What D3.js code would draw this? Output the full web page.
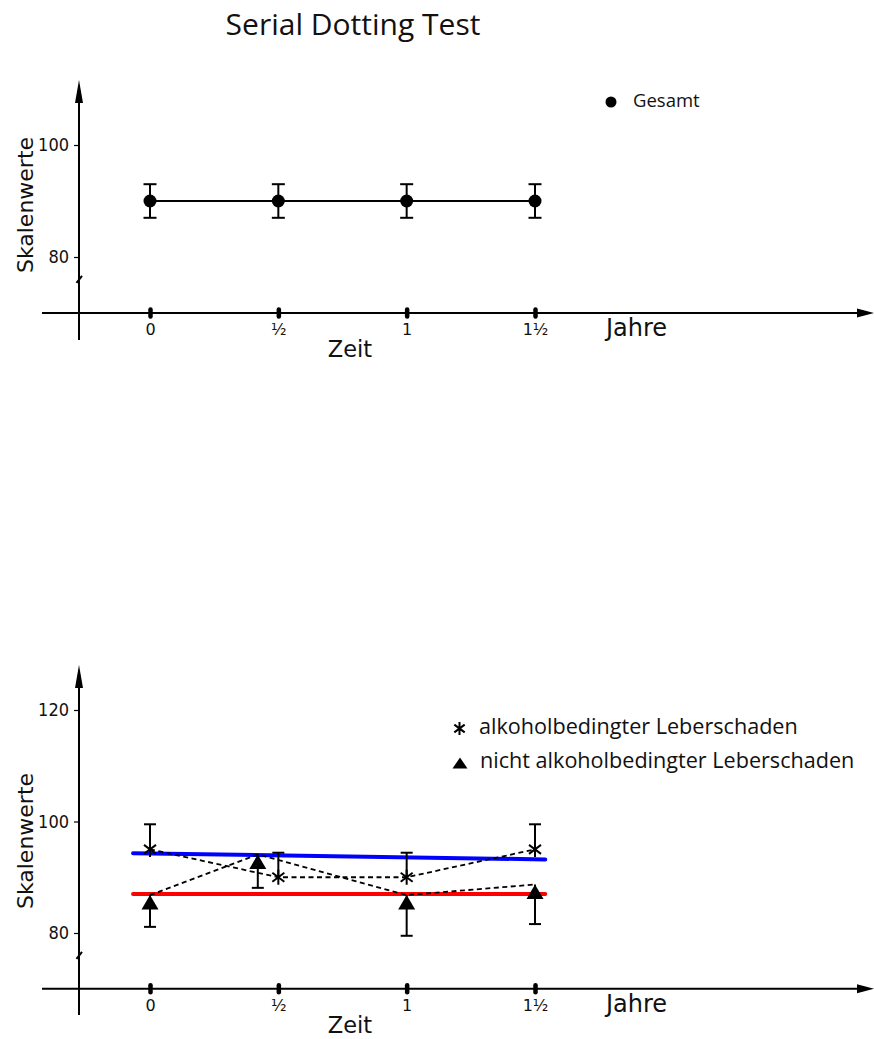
<!DOCTYPE html>
<html>
<head>
<meta charset="utf-8">
<script src="https://cdn.jsdelivr.net/npm/d3@7"></script>
<style>
  html, body { margin: 0; padding: 0; background: #fff; }
  svg { display: block; }
</style>
</head>
<body>
<script>
// ---------------- data ----------------
const chartTitle = "Serial Dotting Test";
const xTickValues = [0, 0.5, 1, 1.5];
const xTickLabels = ["0", "½", "1", "1½"];
const xAxisTitle = "Zeit";
const xUnitLabel = "Jahre";
const yAxisTitle = "Skalenwerte";

const topYTicks = [80, 100];
const bottomYTicks = [80, 100, 120];

// Panel 1: Gesamt
const gesamtLabel = "Gesamt";
const gesamtTime = [0, 0.5, 1, 1.5];
const gesamtMean = [90, 90, 90, 90];
const gesamtErr = [3, 3, 3, 3];

// Panel 2: alkoholbedingter Leberschaden (asterisk)
const alkLabel = "alkoholbedingter Leberschaden";
const alkTime = [0, 0.5, 1, 1.5];
const alkMean = [95, 90, 90, 95];
const alkUpper = [99.5, 94.4, 94.4, 99.5];

// Panel 2: nicht alkoholbedingter Leberschaden (triangle)
const nichtLabel = "nicht alkoholbedingter Leberschaden";
const nichtTime = [0, 0.42, 1, 1.5];
const nichtMean = [86.8, 94.1, 86.8, 88.7];
const nichtLower = [81.1, 88.1, 79.5, 81.6];

// Panel 2: trend lines
const blueTrendTime = [-0.066, 1.54];
const blueTrendValue = [94.3, 93.2];
const redTrendTime = [-0.066, 1.54];
const redTrendValue = [87.0, 87.0];

// ---------------- layout ----------------
const W = 874, H = 1039;
const svg = d3.select("body").append("svg").attr("width", W).attr("height", H);

const x = d3.scaleLinear().domain([0, 1.5]).range([150, 535]);
const yAxisX = 79;
const axisFloor = 70;   // value at which the x axis sits (below the break)
const breakValue = 76;

const panels = [
  { y: d3.scaleLinear().domain([80, 100]).range([257, 145]), ticks: topYTicks,
    arrowTip: 80, yAxisBottom: 340, yTitleCenter: 205 },
  { y: d3.scaleLinear().domain([80, 120]).range([933, 710]), ticks: bottomYTicks,
    arrowTip: 665, yAxisBottom: 1015, yTitleCenter: 841 }
];

const fracFont = "'DejaVu Sans', Verdana, sans-serif";
const narrowFont = "'Liberation Sans Narrow', 'DejaVu Sans Condensed', 'Arial Narrow', sans-serif";
const roundFont = "'Open Sans', 'Noto Sans', sans-serif";

// Title
svg.append("text").attr("x", 353).attr("y", 35).attr("text-anchor", "middle")
  .attr("font-family", roundFont).attr("font-size", 30).attr("fill", "#111")
  .text(chartTitle);

function drawAxes(p) {
  const g = svg.append("g");
  const xAxisY = p.y(axisFloor);
  // y axis line + arrow
  g.append("line").attr("x1", yAxisX).attr("x2", yAxisX)
    .attr("y1", p.yAxisBottom).attr("y2", p.arrowTip + 15)
    .attr("stroke", "#000").attr("stroke-width", 2);
  g.append("path")
    .attr("d", `M${yAxisX},${p.arrowTip} L${yAxisX + 4},${p.arrowTip + 23} L${yAxisX - 4},${p.arrowTip + 23} Z`)
    .attr("fill", "#000");
  // x axis line + arrow
  g.append("line").attr("x1", 42).attr("x2", 862)
    .attr("y1", xAxisY).attr("y2", xAxisY)
    .attr("stroke", "#000").attr("stroke-width", 2);
  g.append("path")
    .attr("d", `M${W},${xAxisY} L${W - 17},${xAxisY - 4.5} L${W - 17},${xAxisY + 4.5} Z`)
    .attr("fill", "#000");
  // break mark
  const by = p.y(breakValue);
  g.append("line").attr("x1", yAxisX - 2.5).attr("y1", by + 3.5)
    .attr("x2", yAxisX + 3).attr("y2", by - 3.5)
    .attr("stroke", "#000").attr("stroke-width", 2);

  // y ticks via d3 axis
  const ya = g.append("g").attr("transform", `translate(${yAxisX},0)`)
    .call(d3.axisLeft(p.y).tickValues(p.ticks).tickSize(5).tickPadding(5).tickFormat(d3.format("d")));
  ya.select(".domain").remove();
  ya.selectAll(".tick line").attr("stroke", "#000").attr("stroke-width", 1.2);
  ya.selectAll(".tick text").attr("font-family", narrowFont).attr("font-size", 18).attr("fill", "#111");

  // x ticks
  const xa = g.append("g").attr("transform", `translate(0,${xAxisY})`)
    .call(d3.axisBottom(x).tickValues(xTickValues).tickSize(0).tickPadding(0)
      .tickFormat((d, i) => xTickLabels[i]));
  xa.select(".domain").remove();
  xa.selectAll(".tick").append("line")
    .attr("y1", -3.5).attr("y2", 3.5)
    .attr("stroke", "#000").attr("stroke-width", 4.5).attr("stroke-linecap", "round");
  xa.selectAll(".tick text").attr("dy", null).attr("y", 22)
    .attr("font-family", fracFont).attr("font-size", 16).attr("fill", "#111");

  // titles
  g.append("text").attr("x", 350).attr("y", xAxisY + 44).attr("text-anchor", "middle")
    .attr("font-family", fracFont).attr("font-size", 22.5).attr("fill", "#111").text(xAxisTitle);
  g.append("text").attr("x", 606).attr("y", xAxisY + 23)
    .attr("font-family", fracFont).attr("font-size", 24).attr("fill", "#111").text(xUnitLabel);
  g.append("text")
    .attr("transform", `translate(33,${p.yTitleCenter}) rotate(-90)`)
    .attr("text-anchor", "middle")
    .attr("font-family", fracFont).attr("font-size", 22).attr("fill", "#111").text(yAxisTitle);
}

panels.forEach(drawAxes);

// ---------------- panel 1 ----------------
(function () {
  const y = panels[0].y;
  const data = gesamtTime.map((t, i) => ({ t, m: gesamtMean[i], e: gesamtErr[i] }));
  const g = svg.append("g");
  g.append("path").datum(data)
    .attr("d", d3.line().x(d => x(d.t)).y(d => y(d.m)))
    .attr("fill", "none").attr("stroke", "#000").attr("stroke-width", 2);
  const eb = g.selectAll(".eb").data(data).enter().append("g");
  eb.append("line").attr("x1", d => x(d.t)).attr("x2", d => x(d.t))
    .attr("y1", d => y(d.m + d.e)).attr("y2", d => y(d.m - d.e))
    .attr("stroke", "#000").attr("stroke-width", 2);
  [1, -1].forEach(s => {
    eb.append("line").attr("x1", d => x(d.t) - 6.5).attr("x2", d => x(d.t) + 6.5)
      .attr("y1", d => y(d.m + s * d.e)).attr("y2", d => y(d.m + s * d.e))
      .attr("stroke", "#000").attr("stroke-width", 2);
  });
  g.selectAll(".pt").data(data).enter().append("circle")
    .attr("cx", d => x(d.t)).attr("cy", d => y(d.m)).attr("r", 6.5).attr("fill", "#000");

  // legend
  svg.append("circle").attr("cx", 611).attr("cy", 102).attr("r", 5.5).attr("fill", "#000");
  svg.append("text").attr("x", 633).attr("y", 107)
    .attr("font-family", roundFont).attr("font-size", 18.5).attr("fill", "#111").text(gesamtLabel);
})();

// ---------------- panel 2 ----------------
function asteriskPath(cx, cy, r) {
  const a = 37 * Math.PI / 180;
  const dx = r * Math.cos(a), dy = r * Math.sin(a);
  return `M${cx},${cy - r} L${cx},${cy + r} M${cx - dx},${cy - dy} L${cx + dx},${cy + dy} M${cx - dx},${cy + dy} L${cx + dx},${cy - dy}`;
}
function trianglePath(cx, top, w, h) {
  return `M${cx},${top} L${cx + w / 2},${top + h} L${cx - w / 2},${top + h} Z`;
}

(function () {
  const y = panels[1].y;
  const g = svg.append("g");
  const line = d3.line().x(d => x(d.t)).y(d => y(d.v));

  const blue = blueTrendTime.map((t, i) => ({ t, v: blueTrendValue[i] }));
  const red = redTrendTime.map((t, i) => ({ t, v: redTrendValue[i] }));
  g.append("path").datum(blue).attr("d", line).attr("fill", "none")
    .attr("stroke", "#0000ff").attr("stroke-width", 4).attr("stroke-linecap", "round");
  g.append("path").datum(red).attr("d", line).attr("fill", "none")
    .attr("stroke", "#ff0000").attr("stroke-width", 4).attr("stroke-linecap", "round");

  const alk = alkTime.map((t, i) => ({ t, v: alkMean[i], hi: alkUpper[i] }));
  const nicht = nichtTime.map((t, i) => ({ t, v: nichtMean[i], lo: nichtLower[i] }));

  [alk, nicht].forEach(ser => {
    g.append("path").datum(ser).attr("d", line).attr("fill", "none")
      .attr("stroke", "#000").attr("stroke-width", 1.8).attr("stroke-dasharray", "5,3.5");
  });

  // asterisk error bars (upward)
  const ae = g.selectAll(".ae").data(alk).enter().append("g");
  ae.append("line").attr("x1", d => x(d.t)).attr("x2", d => x(d.t))
    .attr("y1", d => y(d.v)).attr("y2", d => y(d.hi))
    .attr("stroke", "#000").attr("stroke-width", 2);
  ae.append("line").attr("x1", d => x(d.t) - 6).attr("x2", d => x(d.t) + 6)
    .attr("y1", d => y(d.hi)).attr("y2", d => y(d.hi))
    .attr("stroke", "#000").attr("stroke-width", 2);
  ae.append("path").attr("d", d => asteriskPath(x(d.t), y(d.v), 7.5))
    .attr("stroke", "#000").attr("stroke-width", 2).attr("fill", "none");

  // triangle error bars (downward)
  const te = g.selectAll(".te").data(nicht).enter().append("g");
  te.append("line").attr("x1", d => x(d.t)).attr("x2", d => x(d.t))
    .attr("y1", d => y(d.v)).attr("y2", d => y(d.lo))
    .attr("stroke", "#000").attr("stroke-width", 2);
  te.append("line").attr("x1", d => x(d.t) - 6).attr("x2", d => x(d.t) + 6)
    .attr("y1", d => y(d.lo)).attr("y2", d => y(d.lo))
    .attr("stroke", "#000").attr("stroke-width", 2);
  te.append("path").attr("d", d => trianglePath(x(d.t), y(d.v), 17, 14.5))
    .attr("fill", "#000");

  // legend
  svg.append("path").attr("d", asteriskPath(459.5, 728.5, 6.5))
    .attr("stroke", "#000").attr("stroke-width", 2).attr("fill", "none");
  svg.append("text").attr("x", 479).attr("y", 734)
    .attr("font-family", roundFont).attr("font-size", 21.6).attr("fill", "#111").text(alkLabel);
  svg.append("path").attr("d", trianglePath(460, 757.5, 15, 11)).attr("fill", "#000");
  svg.append("text").attr("x", 480).attr("y", 768)
    .attr("font-family", roundFont).attr("font-size", 21.6).attr("fill", "#111").text(nichtLabel);
})();
</script>
</body>
</html>
